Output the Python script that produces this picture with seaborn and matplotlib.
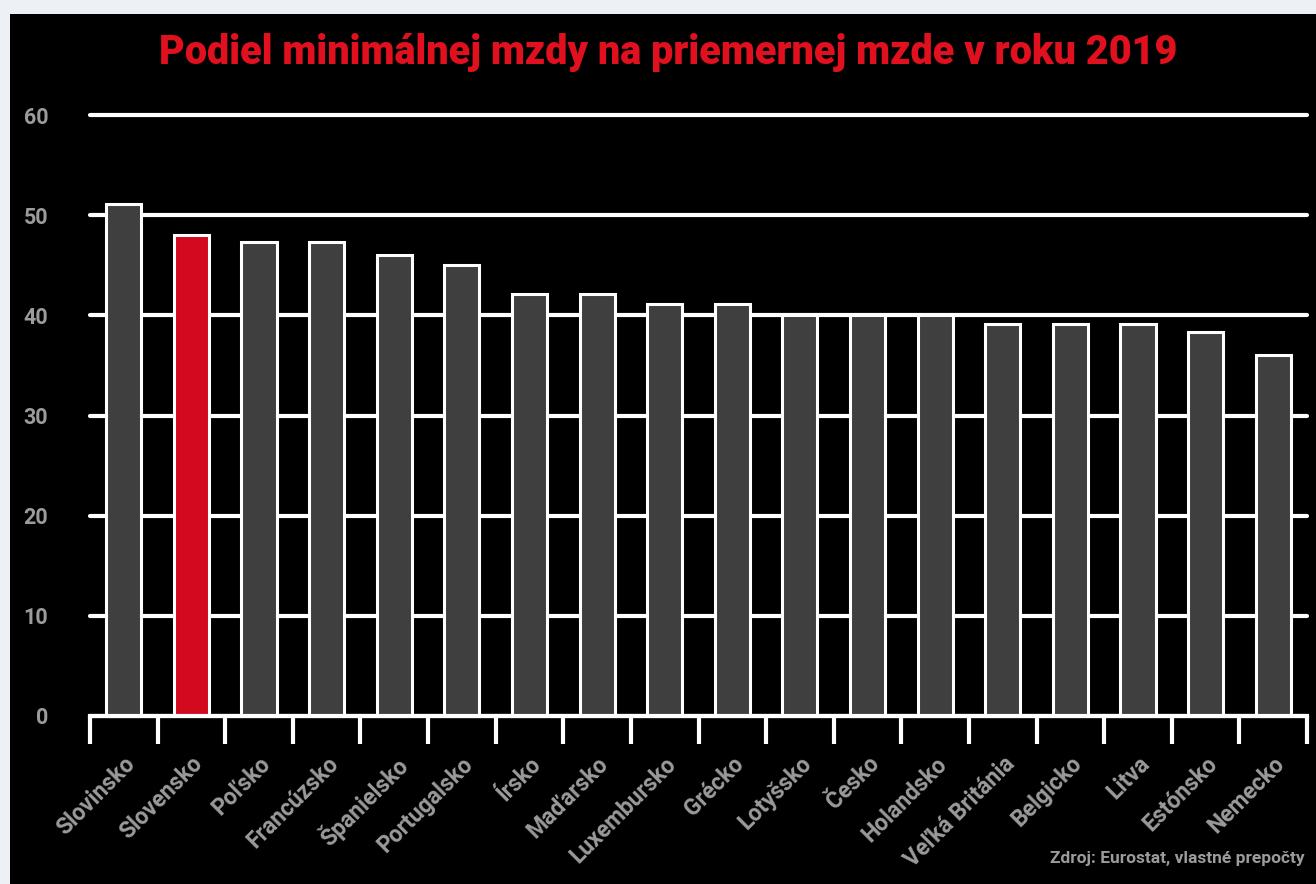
import matplotlib
matplotlib.use("Agg")
import matplotlib.pyplot as plt
import seaborn as sns
import pandas as pd
from matplotlib.patches import Rectangle

# data
countries = ["Slovinsko", "Slovensko", "Poľsko", "Francúzsko", "Španielsko",
             "Portugalsko", "Írsko", "Maďarsko", "Luxembursko", "Grécko",
             "Lotyšsko", "Česko", "Holandsko", "Veľká Británia", "Belgicko",
             "Litva", "Estónsko", "Nemecko"]
share = [51.1, 48.0, 47.3, 47.3, 46.0, 45.0, 42.1, 42.1, 41.1, 41.1,
         40.0, 40.0, 40.0, 39.1, 39.1, 39.1, 38.3, 36.0]
highlight = "Slovensko"

df = pd.DataFrame({"krajina": countries, "podiel": share})

GRAY = "#3f3f3f"
RED = "#d3091f"
TXT = "#9b9b9b"

sns.set_style("dark")
plt.rcParams["font.family"] = ["Roboto", "DejaVu Sans"]

fig = plt.figure(figsize=(13.16, 8.84), dpi=100, facecolor="#edf1f5")
# black panel inside the light frame
fig.add_artist(Rectangle((10 / 1316, 0), 1, 1 - 14 / 884, transform=fig.transFigure,
                         facecolor="black", edgecolor="none", zorder=-5))

ax = fig.add_axes([90 / 1316, 1 - 716 / 884, 1217 / 1316, 601 / 884])
ax.set_facecolor("black")

palette = {c: (RED if c == highlight else GRAY) for c in countries}
sns.barplot(data=df, x="krajina", y="podiel", hue="krajina", palette=palette,
            legend=False, width=0.52, edgecolor="white", linewidth=2.2,
            saturation=1, ax=ax, zorder=3)

ax.set_ylim(0, 60)
ax.set_xlim(-0.5, len(countries) - 0.5)
ax.set_yticks(range(0, 61, 10))
ax.yaxis.grid(True, color="white", linewidth=3, zorder=1)
ax.xaxis.grid(False)
ax.set_axisbelow(True)
for gl in ax.get_ygridlines():
    gl.set_clip_on(False)

for s in ["top", "right", "left"]:
    ax.spines[s].set_visible(False)
ax.spines["bottom"].set_color("white")
ax.spines["bottom"].set_linewidth(3)
ax.spines["bottom"].set_zorder(4)

# category boundary ticks
ax.set_xticks([i - 0.5 for i in range(len(countries) + 1)], minor=True)
ax.tick_params(axis="x", which="minor", bottom=True, length=20, width=3,
               color="white", direction="out")
ax.tick_params(axis="x", which="major", bottom=True, length=0, pad=26)
ax.tick_params(axis="y", length=0, pad=30)

ax.set_xticks(range(len(countries)))
ax.set_xticklabels(countries, rotation=45, ha="right", rotation_mode="anchor",
                   color=TXT, fontsize=16.5, fontweight="bold")
for lab in ax.get_yticklabels():
    lab.set_color(TXT)
    lab.set_fontsize(15.5)
    lab.set_fontweight("bold")

ax.set_xlabel("")
ax.set_ylabel("")

fig.text(0.508, 1 - 53 / 884, "Podiel minimálnej mzdy na priemernej mzde v roku 2019",
         ha="center", va="center", color="#e0101e", fontsize=28.5, fontweight="black")
fig.text(1305 / 1316, 1 - 858 / 884, "Zdroj: Eurostat, vlastné prepočty",
         ha="right", va="center", color=TXT, fontsize=12.5, fontweight="bold")

fig.savefig("out.png", dpi=100, facecolor=fig.get_facecolor())
